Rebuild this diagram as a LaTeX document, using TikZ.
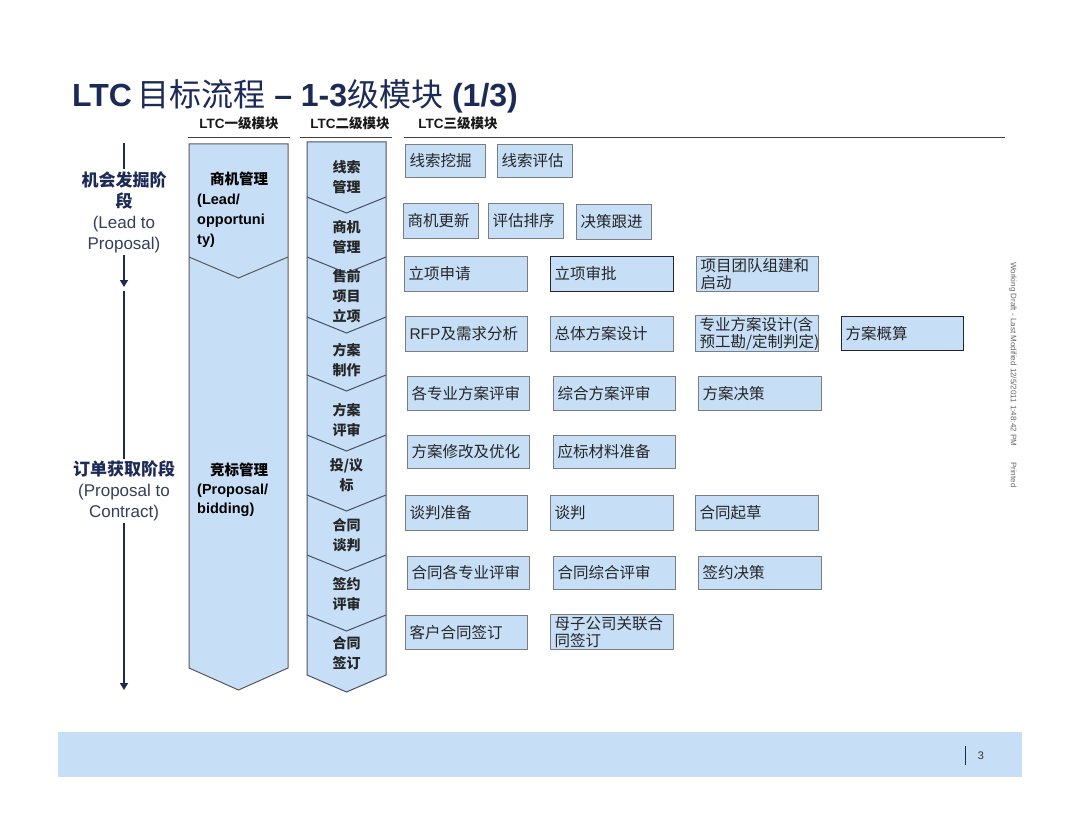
\documentclass[tikz,border=0pt]{standalone}
\usepackage{fontspec}
\setmainfont{Liberation Sans}
\newfontfamily\cjk{Noto Sans CJK SC}
\usetikzlibrary{arrows.meta}
\definecolor{navy}{RGB}{28,42,86}
\definecolor{slate}{RGB}{52,62,92}
\definecolor{boxfill}{RGB}{198,222,246}
\definecolor{boxline}{RGB}{122,126,132}
\definecolor{colline}{RGB}{72,80,98}
\definecolor{darkline}{RGB}{35,38,48}

\begin{document}
\begin{tikzpicture}[x=1pt, y=-1pt, >={Triangle[width=8pt,length=7pt]},
	taskbox/.style={draw=boxline, fill=boxfill, line width=1pt, anchor=north west, inner xsep=4pt, inner ysep=1pt, align=left, text=black!85, font=\cjk\fontsize{15.5}{17}\selectfont},
	taskdark/.style={taskbox, draw=darkline},
	colbox/.style={draw=colline, fill=boxfill, line width=1pt},
	steplabel/.style={align=center, text=black!85, font=\cjk\bfseries\fontsize{14}{20}\selectfont},
	stagelabel/.style={align=center, inner sep=2pt, text=slate, font=\fontsize{17}{21}\selectfont},
	stageline/.style={navy, line width=1.6pt},
	headlabel/.style={anchor=base, text=black!90, font=\bfseries\fontsize{13.5}{16}\selectfont}]
	\def\task#1#2#3#4#5#6#7{\pgfmathsetmacro\tw{#5-#3-8}\pgfmathsetmacro\th{#6-#4}\node[#2, text width=\tw pt, minimum height=\th pt] (#1) at (#3,#4) {#7};}
	\useasboundingbox (0,0) rectangle (1080,832);
	% title and column heads
	\node[anchor=base west, inner sep=0pt, text=navy, font=\bfseries\fontsize{32}{36}\selectfont] (title) at (72,107) {LTC\,{\cjk\mdseries 目标流程} – 1-3{\cjk\mdseries 级模块} (1/3)};
	\node[headlabel] (head1) at (239,129) {LTC{\cjk 一级模块}};
	\node[headlabel] (head2) at (350,129) {LTC{\cjk 二级模块}};
	\node[headlabel] (head3) at (458,129) {LTC{\cjk 三级模块}};
	\draw[black!75, line width=0.8pt] (188,137) -- (290,137);
	\draw[black!75, line width=0.8pt] (300,137) -- (392,137);
	\draw[black!75, line width=0.8pt] (404,137) -- (1005,137);
	% stages on the left
	\node[stagelabel] (stage1) at (124,212) {{\cjk\bfseries\color{navy}机会发掘阶}\\{\cjk\bfseries\color{navy}段}\\(Lead to\\Proposal)};
	\node[stagelabel] (stage2) at (124,491) {{\cjk\bfseries\color{navy}订单获取阶段}\\(Proposal to\\Contract)};
	\coordinate (s0) at (124,143);
	\coordinate (s1) at (124,287);
	\coordinate (s2) at (124,291);
	\coordinate (s3) at (124,690);
	\draw[stageline] (s0) -- (stage1);
	\draw[stageline,->] (stage1) -- (s1);
	\draw[stageline] (s2) -- (stage2);
	\draw[stageline,->] (stage2) -- (s3);
	% level 1 column
	\filldraw[colbox, draw=black!65] (189,144) -- (288,144) -- (288,668) -- (238.5,690) -- (189,668) -- cycle;
	\draw[black!65, line width=1pt] (189,257) -- (238.5,278) -- (288,257);
	\node[anchor=north west, inner sep=0pt, text width=88pt, align=left, font=\bfseries\fontsize{14.5}{20}\selectfont] (l1lead) at (197,172) {\makebox[84pt]{\cjk 商机管理}\\(Lead/\\opportuni\\ty)};
	\node[anchor=north west, inner sep=0pt, text width=88pt, align=left, font=\bfseries\fontsize{14.5}{19}\selectfont] (l1bid) at (197,463) {\makebox[84pt]{\cjk 竞标管理}\\(Proposal/\\bidding)};
	% level 2 column
	\filldraw[colbox] (307,142) -- (386,142) -- (386,675) -- (346.5,692) -- (307,675) -- cycle;
	\foreach \b in {197,257,317,375,435,495,555,615}
		\draw[colline, line width=1pt] (307,\b) -- (346.5,\b+16) -- (386,\b);
	\foreach \y/\name/\txt in {177/l2lead/{线索\\管理}, 237/l2oppo/{商机\\管理}, 296/l2init/{售前\\项目\\立项}, 360/l2make/{方案\\制作}, 420/l2review/{方案\\评审}, 475/l2bid/{投/议\\标}, 535/l2nego/{合同\\谈判}, 594/l2sign/{签约\\评审}, 653/l2contract/{合同\\签订}}
		\node[steplabel] (\name) at (346.5,\y) {\txt};
	% level 3 boxes
	\task{t11}{taskbox}{405}{144}{485}{177}{线索挖掘}
	\task{t12}{taskbox}{497}{144}{572}{177}{线索评估}
	\task{t21}{taskbox}{403}{203}{478}{238}{商机更新}
	\task{t22}{taskbox}{488}{203}{563}{238}{评估排序}
	\task{t23}{taskbox}{576}{204}{651}{239}{决策跟进}
	\task{t31}{taskbox}{404}{256}{527}{291}{立项申请}
	\task{t32}{taskdark}{550}{256}{673}{291}{立项审批}
	\task{t33}{taskbox}{696}{256}{818}{291}{项目团队组建和\\启动}
	\task{t41}{taskbox}{405}{316}{527}{351}{{\rmfamily RFP}及需求分析}
	\task{t42}{taskbox}{550}{316}{673}{351}{总体方案设计}
	\task{t43}{taskbox}{695}{315}{818}{351}{专业方案设计(含\\预工勘/定制判定)}
	\task{t44}{taskdark}{841}{316}{963}{350}{方案概算}
	\task{t51}{taskbox}{407}{376}{529}{410}{各专业方案评审}
	\task{t52}{taskbox}{553}{376}{675}{410}{综合方案评审}
	\task{t53}{taskbox}{698}{376}{821}{410}{方案决策}
	\task{t61}{taskbox}{407}{435}{529}{468}{方案修改及优化}
	\task{t62}{taskbox}{553}{435}{675}{468}{应标材料准备}
	\task{t71}{taskbox}{405}{495}{527}{530}{谈判准备}
	\task{t72}{taskbox}{550}{495}{673}{530}{谈判}
	\task{t73}{taskbox}{695}{495}{818}{530}{合同起草}
	\task{t81}{taskbox}{407}{556}{529}{589}{合同各专业评审}
	\task{t82}{taskbox}{553}{556}{675}{589}{合同综合评审}
	\task{t83}{taskbox}{698}{556}{821}{589}{签约决策}
	\task{t91}{taskbox}{405}{615}{527}{649}{客户合同签订}
	\task{t92}{taskbox}{550}{614}{673}{649}{母子公司关联合\\同签订}
	% side note and footer
	\node[rotate=-90, text=black!60, font=\fontsize{8}{10}\selectfont] (draft) at (1013,375) {Working Draft - Last Modified 12/5/2011 1:48:42 PM\quad\quad Printed};
	\fill[boxfill] (58,732) rectangle (1022,777);
	\draw[navy, line width=0.8pt] (965,746) -- (965,765);
	\node[text=black!80, font=\fontsize{11}{13}\selectfont] (pagenum) at (981,756) {3};
\end{tikzpicture}
\end{document}
